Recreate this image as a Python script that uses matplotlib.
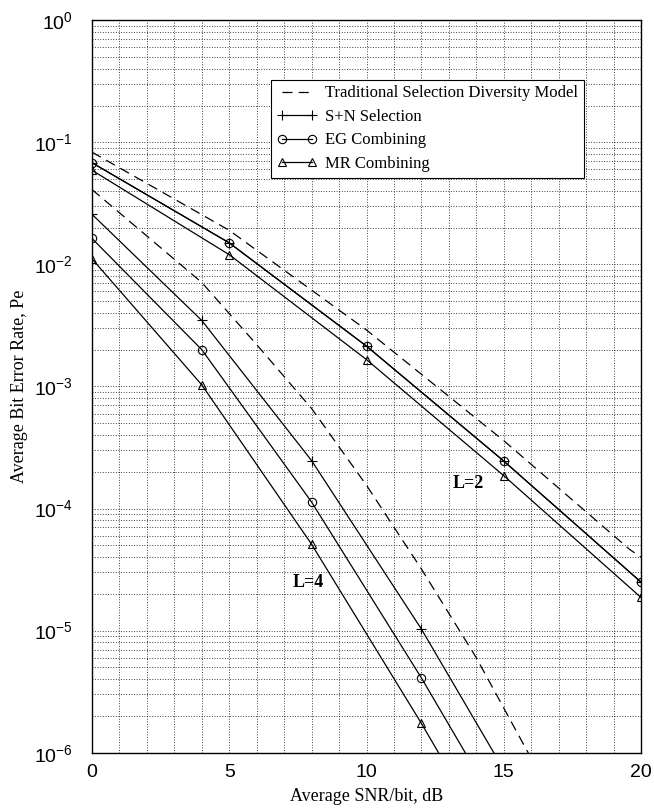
import numpy as np
import matplotlib
matplotlib.use("Agg")
import matplotlib.pyplot as plt
from matplotlib.lines import Line2D
from matplotlib.ticker import LogLocator, MultipleLocator, NullFormatter

plt.rcParams['font.family'] = 'Liberation Sans'
plt.rcParams['mathtext.fontset'] = 'custom'
plt.rcParams['mathtext.rm'] = 'Liberation Sans'

# L=2 curves, markers every 5 dB
snr_l2 = [0, 5, 10, 15, 20]
eg_l2 = [0.068, 0.0150, 2.14e-3, 2.45e-4, 2.5e-5]
sn_l2 = [0.068, 0.0150, 2.14e-3, 2.45e-4, 2.5e-5]
mr_l2 = [0.059, 0.0120, 1.66e-3, 1.86e-4, 1.87e-5]
trad_snr_l2 = [0, 5, 10, 15, 19.6, 20]
trad_l2 = [0.083, 0.019, 2.9e-3, 3.6e-4, 4.6e-5, 4.0e-5]

# L=4 curves, markers every 4 dB
snr_l4 = [0, 4, 8, 12, 16]
sn_l4 = [0.0257, 3.47e-3, 2.47e-4, 1.03e-5, 3.0e-7]
eg_l4 = [0.0163, 2.0e-3, 1.13e-4, 4.1e-6, 1.2e-7]
mr_l4 = [0.0111, 1.03e-3, 5.1e-5, 1.74e-6, 5.0e-8]
trad_snr_l4 = [0, 4, 6, 8, 10, 12, 14, 16]
trad_l4 = [0.041, 7.1e-3, 2.2e-3, 6.6e-4, 1.55e-4, 3.2e-5, 6.0e-6, 9.0e-7]

fig = plt.figure(figsize=(6.54, 8.08), dpi=100)
ax = fig.add_axes([0.1407, 0.0684, 0.8394, 0.9066])

lw = 0.9
dash = (0, (8, 5))
ax.plot(trad_snr_l2, trad_l2, color='k', ls=dash, lw=lw)
ax.plot(trad_snr_l4, trad_l4, color='k', ls=dash, lw=lw)
for xs, ys in [(snr_l2, sn_l2), (snr_l4, sn_l4)]:
    ax.plot(xs, ys, color='k', lw=lw, marker='+', ms=7, mew=0.8)
for xs, ys in [(snr_l2, eg_l2), (snr_l4, eg_l4)]:
    ax.plot(xs, ys, color='k', lw=lw, marker='o', ms=6, mfc='none', mew=0.8)
for xs, ys in [(snr_l2, mr_l2), (snr_l4, mr_l4)]:
    ax.plot(xs, ys, color='k', lw=lw, marker='^', ms=6, mfc='none', mew=0.8)

ax.set_yscale('log')
ax.set_xlim(0, 20)
ax.set_ylim(1e-6, 1)
ax.xaxis.set_major_locator(MultipleLocator(5))
ax.xaxis.set_minor_locator(MultipleLocator(1))
ax.yaxis.set_major_locator(LogLocator(base=10, numticks=10))
ax.yaxis.set_minor_locator(LogLocator(base=10, subs=np.arange(2, 10), numticks=20))
ax.yaxis.set_minor_formatter(NullFormatter())
ax.grid(True, which='both', color='k', ls=(0, (1.2, 2.2)), lw=0.55)
ax.tick_params(which='both', length=0, labelsize=14)
ax.tick_params(axis='y', pad=14)
ax.tick_params(axis='x', pad=8)
for s in ax.spines.values():
    s.set_linewidth(1.0)

ax.set_xlabel('Average SNR/bit, dB', fontsize=13, family='Liberation Serif', labelpad=5)
ax.set_ylabel('Average Bit Error Rate, Pe', fontsize=13, family='Liberation Serif', labelpad=4)

ax.text(13.15, 1.6e-4, 'L=2', fontsize=13, weight='bold', family='Liberation Serif', va='center')
ax.text(7.3, 2.5e-5, 'L=4', fontsize=13, weight='bold', family='Liberation Serif', va='center')

handles = [
    Line2D([], [], color='k', ls=dash, lw=lw),
    Line2D([], [], color='k', lw=lw, marker='+', ms=7, mew=0.8),
    Line2D([], [], color='k', lw=lw, marker='o', ms=6, mfc='none', mew=0.8),
    Line2D([], [], color='k', lw=lw, marker='^', ms=6, mfc='none', mew=0.8),
]
labels = ['Traditional Selection Diversity Model', 'S+N Selection',
          'EG Combining', 'MR Combining']
leg = ax.legend(handles, labels, loc='upper left', bbox_to_anchor=(0.326, 0.919),
                numpoints=2, handlelength=2.4, fancybox=False, framealpha=1,
                edgecolor='k', prop={'family': 'Liberation Serif', 'size': 12},
                borderpad=0.35, labelspacing=0.45, handletextpad=0.5, borderaxespad=0)
leg.get_frame().set_linewidth(0.8)

plt.savefig("out.png", dpi=100)
